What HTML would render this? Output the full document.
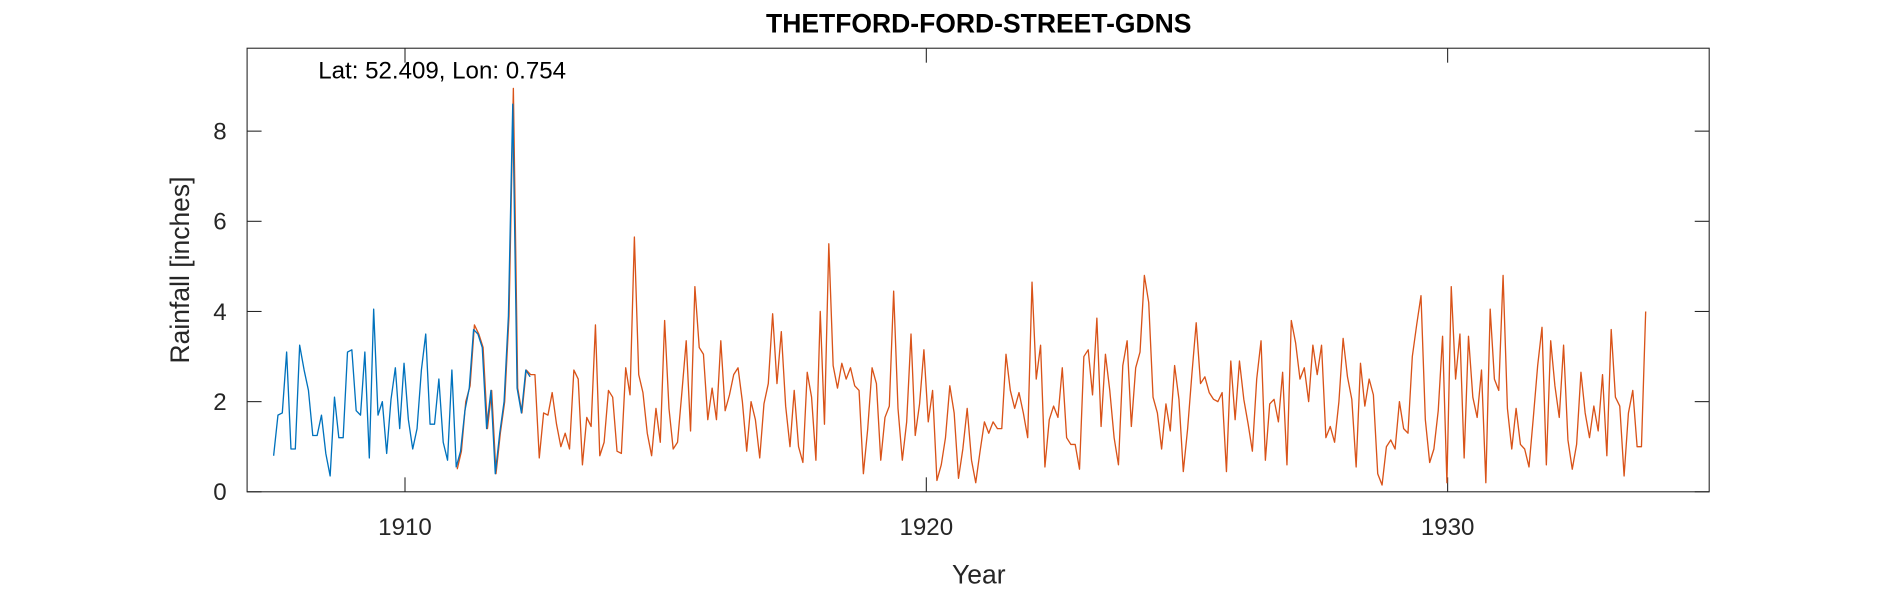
<!DOCTYPE html>
<html><head><meta charset="utf-8">
<style>
html,body{margin:0;padding:0;background:#fff;}
svg{display:block;font-family:"Liberation Sans",sans-serif;}
</style></head>
<body>
<svg id="chart" width="1890" height="591" viewBox="0 0 1568 490.3" preserveAspectRatio="none"></svg>
<script>
const yTicks=[0,2,4,6,8];
const xTicks=[1910,1920,1930];
const blueStart=1907.48, blueEnd=1912.4;
const blueValues=[0.8,1.7,1.75,3.1,0.95,0.95,3.25,2.7,2.25,1.25,1.25,1.7,0.85,0.35,2.1,1.2,1.2,3.1,3.15,1.8,1.7,3.1,0.75,4.05,1.7,2.0,0.85,2.05,2.75,1.4,2.85,1.6,0.95,1.4,2.7,3.5,1.5,1.5,2.5,1.1,0.7,2.7,0.55,0.9,1.8,2.3,3.6,3.5,3.2,1.4,2.25,0.4,1.3,2.0,3.9,8.6,2.3,1.75,2.7,2.55];
const orangeStart=1911.0, orangeEnd=1933.8;
const orangeValues=[0.5,0.9,2.0,2.35,3.7,3.5,3.2,1.4,2.25,0.4,1.3,2.0,3.9,8.95,2.3,1.75,2.7,2.6,2.6,0.75,1.75,1.7,2.2,1.5,1.0,1.3,0.95,2.7,2.5,0.6,1.65,1.45,3.7,0.8,1.1,2.25,2.1,0.9,0.85,2.75,2.15,5.65,2.6,2.2,1.3,0.8,1.85,1.1,3.8,1.85,0.95,1.1,2.2,3.35,1.35,4.55,3.2,3.05,1.6,2.3,1.6,3.35,1.8,2.15,2.6,2.75,2.0,0.9,2.0,1.6,0.75,1.95,2.4,3.95,2.4,3.55,1.9,1.0,2.25,1.0,0.65,2.65,2.1,0.7,4.0,1.5,5.5,2.8,2.3,2.85,2.5,2.75,2.35,2.25,0.4,1.4,2.75,2.4,0.7,1.65,1.9,4.45,1.85,0.7,1.55,3.5,1.25,1.95,3.15,1.55,2.25,0.25,0.6,1.2,2.35,1.75,0.3,0.95,1.85,0.7,0.2,0.9,1.55,1.3,1.55,1.4,1.4,3.05,2.25,1.85,2.2,1.75,1.2,4.65,2.5,3.25,0.55,1.6,1.9,1.65,2.75,1.2,1.05,1.05,0.5,3.0,3.15,2.15,3.85,1.45,3.05,2.25,1.2,0.6,2.8,3.35,1.45,2.75,3.1,4.8,4.2,2.1,1.75,0.95,1.95,1.35,2.8,2.05,0.45,1.4,2.6,3.75,2.4,2.55,2.2,2.05,2.0,2.2,0.45,2.9,1.6,2.9,2.05,1.5,0.9,2.5,3.35,0.7,1.95,2.05,1.55,2.65,0.6,3.8,3.3,2.5,2.75,2.0,3.25,2.6,3.25,1.2,1.45,1.1,2.0,3.4,2.55,2.05,0.55,2.85,1.9,2.5,2.15,0.4,0.15,1.0,1.15,0.95,2.0,1.4,1.3,3.0,3.7,4.35,1.6,0.65,0.95,1.8,3.45,0.2,4.55,2.5,3.5,0.75,3.45,2.1,1.65,2.7,0.2,4.05,2.5,2.25,4.8,1.85,0.95,1.85,1.05,0.95,0.55,1.65,2.8,3.65,0.6,3.35,2.35,1.65,3.25,1.15,0.5,1.05,2.65,1.75,1.2,1.9,1.35,2.6,0.8,3.6,2.1,1.9,0.35,1.75,2.25,1.0,1.0,4.0];

const L=205,R=1418,T=40,B=408;
const xScale=y=>336+(y-1910)*43.25;
const yScale=v=>B-v*37.4;
const NS="http://www.w3.org/2000/svg";
const svg=document.getElementById('chart');
function mk(tag,attrs,parent){const e=document.createElementNS(NS,tag);for(const k in attrs)e.setAttribute(k,attrs[k]);(parent||svg).appendChild(e);return e;}

const frame=mk('rect',{x:L,y:T,width:R-L,height:B-T,fill:'none',stroke:'#262626','stroke-width':0.9});



yTicks.forEach(v=>{
  const y=yScale(v);
  const t1=mk('line',{x1:L,x2:L+12,y1:y,y2:y,stroke:'#262626','stroke-width':0.9});
  
  
  const t2=mk('line',{x1:R-12,x2:R,y1:y,y2:y,stroke:'#262626','stroke-width':0.9});
  
  
  const lb=mk('text',{x:L-17,y:y+7,'text-anchor':'end','font-size':20,fill:'#262626'});
  lb.textContent=v;
  
  
});
xTicks.forEach(v=>{
  const x=xScale(v);
  const t1=mk('line',{x1:x,x2:x,y1:B,y2:B-12,stroke:'#262626','stroke-width':0.9});
  
  
  const t2=mk('line',{x1:x,x2:x,y1:T,y2:T+12,stroke:'#262626','stroke-width':0.9});
  
  
  const lb=mk('text',{x:x,y:B+36,'text-anchor':'middle','font-size':20,fill:'#262626'});
  lb.textContent=v;
  
  
});

function series(vals,start,end,color,name){
  const n=vals.length, step=(end-start)/(n-1);
  const pts=vals.map((v,i)=>xScale(start+i*step).toFixed(1)+','+yScale(v).toFixed(1)).join(' ');
  const p=mk('polyline',{points:pts,fill:'none',stroke:color,'stroke-width':1.1,'stroke-linejoin':'round'});
  
  
}
series(orangeValues,orangeStart,orangeEnd,'#d95319','series-orange-line');
series(blueValues,blueStart,blueEnd,'#0072bd','series-blue-line');

const title=mk('text',{x:812,y:27,'text-anchor':'middle','font-size':22,'font-weight':'bold',fill:'#000'});
title.textContent='THETFORD-FORD-STREET-GDNS';


const ann=mk('text',{x:264,y:65,'font-size':20,fill:'#000'});
ann.textContent='Lat: 52.409, Lon: 0.754';


const xl=mk('text',{x:812,y:484,'text-anchor':'middle','font-size':22,fill:'#262626'});
xl.textContent='Year';


const yl=mk('text',{x:0,y:0,'text-anchor':'middle','font-size':22,fill:'#262626',transform:'translate(157,224) rotate(-90)'});
yl.textContent='Rainfall [inches]';


</script>
</body></html>
